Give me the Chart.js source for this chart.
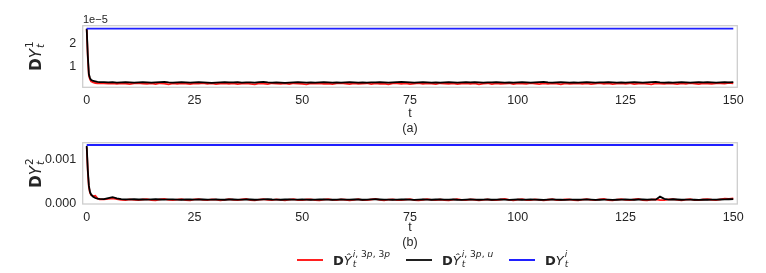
<!DOCTYPE html>
<html>
<head>
<meta charset="utf-8">
<script src="https://cdn.jsdelivr.net/npm/chart.js@4.4.0/dist/chart.umd.min.js"></script>
<style>
  body { margin: 0; background: #fff; width: 766px; height: 273px; position: relative; overflow: hidden;
         font-family: "Liberation Sans", Arial, sans-serif; color: #262626; }
  canvas { position: absolute; left: 0; }
  .math { font-family: "DejaVu Sans", sans-serif; white-space: nowrap; }
  .ylab { position: absolute; transform: translate(-50%, -50%) rotate(-90deg); font-size: 15px; }
  .ss { display: inline-block; vertical-align: -3px; font-size: 0.7em; line-height: 1.05; margin-left: 1px; }
  .ss span { display: block; }
  .off { position: absolute; left: 83px; top: 13px; font-size: 11px; }
  .leg { position: absolute; top: 250px; height: 20px; display: flex; align-items: center; font-size: 13px; }
  .sw { width: 26px; height: 2px; margin-right: 10px; }
</style>
</head>
<body>
<canvas id="pa" width="766" height="140" style="top:0"></canvas>
<canvas id="pb" width="766" height="140" style="top:120px"></canvas>

<div class="off">1e&minus;5</div>
<div class="ylab math" style="left:35px; top:56px"><b>D</b><i>Y</i><span class="ss"><span>1</span><span><i>t</i></span></span></div>
<div class="ylab math" style="left:35px; top:173px"><b>D</b><i>Y</i><span class="ss"><span>2</span><span><i>t</i></span></span></div>

<div class="leg math" style="left:297px"><span class="sw" style="background:#ff2020"></span><b>D</b><i>Ŷ</i><span class="ss"><span><i>i</i>, 3<i>p</i>, 3<i>p</i></span><span><i>t</i></span></span></div>
<div class="leg math" style="left:406px"><span class="sw" style="background:#202020"></span><b>D</b><i>Ŷ</i><span class="ss"><span><i>i</i>, 3<i>p</i>, <i>u</i></span><span><i>t</i></span></span></div>
<div class="leg math" style="left:509px"><span class="sw" style="background:#2020ff"></span><b>D</b><i>Y</i><span class="ss"><span><i>i</i></span><span><i>t</i></span></span></div>

<script>
// time grid: finer steps during the initial drop, then one per unit
const tEarly = [0, 0.25, 0.5, 0.75, 1, 1.5, 2, 2.5, 3];
const tSteps = [];
for (let t = 4; t <= 150; t++) tSteps.push(t);
const times = tEarly.concat(tSteps);

const xTicks = [0, 25, 50, 75, 100, 125, 150];
const yTicksA = [1, 2];          // x 1e-5
const yTicksB = [0, 1];          // x 1e-3 -> 0.000, 0.001

// panel (a), units of 1e-7
const redA = [266, 140, 60, 44, 35, 30, 27, 26, 25,
  26, 24, 25, 23, 26, 24, 22, 25, 27, 24,
  23, 25, 22, 26, 24, 21, 25, 23, 26, 24,
  22, 25, 24, 27, 23, 25, 22, 24, 26, 23,
  25, 22, 24, 26, 23, 21, 25, 24, 22, 26,
  24, 23, 25, 22, 26, 24, 23, 21, 25, 24,
  26, 23, 24, 22, 25, 27, 24, 22, 25, 23,
  24, 26, 22, 25, 23, 24, 21, 25, 26, 23,
  25, 22, 24, 27, 23, 25, 24, 22, 26, 24,
  23, 25, 22, 24, 26, 23, 25, 21, 24, 26,
  22, 25, 23, 24, 26, 22, 25, 24, 23, 27,
  24, 22, 25, 23, 26, 24, 21, 25, 23, 24,
  26, 23, 25, 22, 24, 27, 23, 25, 22, 24,
  25, 23, 26, 22, 24, 25, 23, 21, 25, 24,
  23, 26, 24, 22, 25, 23, 27, 24, 22, 25,
  24, 23, 25, 26, 24, 28, 25];
const blackA = [268, 150, 67, 50, 41, 36, 34, 32, 31,
  31, 30, 31, 29, 30, 31, 30, 29, 30, 31,
  30, 29, 30, 31, 32, 30, 29, 30, 31, 30,
  29, 30, 31, 30, 29, 28, 29, 30, 31, 30,
  30, 31, 29, 30, 30, 29, 31, 32, 30, 29,
  30, 29, 28, 29, 30, 31, 30, 29, 30, 29,
  30, 31, 30, 29, 30, 29, 30, 31, 30, 29,
  30, 29, 30, 30, 31, 30, 29, 30, 31, 32,
  31, 30, 29, 30, 31, 30, 29, 30, 29, 30,
  31, 30, 29, 30, 31, 30, 31, 30, 29, 30,
  30, 31, 30, 29, 30, 29, 30, 31, 30, 29,
  30, 31, 32, 30, 29, 30, 31, 30, 29, 30,
  29, 30, 31, 30, 29, 30, 30, 31, 30, 29,
  30, 29, 30, 31, 30, 29, 30, 31, 32, 30,
  29, 30, 29, 30, 31, 30, 29, 30, 31, 30,
  31, 30, 29, 30, 31, 30, 31];

// panel (b), units of 1e-6
const redB = [1270, 720, 370, 240, 190, 160, 170, 110, 90,
  88, 100, 110, 96, 80, 72, 90, 78, 70, 86,
  95, 74, 68, 90, 100, 78, 70, 84, 92, 72,
  66, 88, 96, 76, 70, 90, 82, 68, 78, 94,
  80, 70, 86, 98, 74, 66, 84, 92, 76, 70,
  88, 78, 68, 82, 96, 74, 70, 86, 90, 72,
  68, 84, 94, 76, 70, 88, 80, 66, 78, 92,
  74, 70, 86, 100, 78, 68, 82, 90, 74, 70,
  84, 96, 72, 66, 80, 92, 78, 70, 86, 74,
  68, 82, 94, 76, 70, 88, 80, 66, 78, 90,
  74, 70, 86, 98, 76, 68, 82, 92, 74, 70,
  88, 78, 66, 80, 96, 74, 70, 86, 90, 72,
  68, 84, 96, 76, 70, 88, 100, 74, 66, 82,
  92, 76, 70, 86, 98, 74, 68, 82, 90, 72,
  70, 88, 96, 76, 68, 84, 92, 74, 70, 86,
  96, 80, 74, 90, 104, 98, 110];
const blackB = [1300, 760, 400, 260, 200, 150, 120, 105, 98,
  95, 118, 138, 112, 96, 90, 88, 92, 86, 90,
  84, 88, 92, 86, 82, 88, 90, 85, 80, 86,
  88, 84, 90, 86, 82, 85, 88, 84, 80, 86,
  90, 84, 82, 88, 86, 80, 84, 88, 92, 86,
  84, 80, 86, 90, 84, 82, 88, 85, 80, 84,
  86, 90, 84, 80, 85, 88, 82, 84, 90, 86,
  80, 84, 88, 92, 86, 82, 85, 80, 84, 88,
  86, 82, 78, 84, 88, 84, 80, 86, 90, 84,
  82, 86, 80, 78, 84, 88, 82, 80, 84, 86,
  80, 84, 88, 82, 78, 84, 86, 80, 82, 86,
  84, 80, 78, 82, 86, 84, 80, 76, 82, 84,
  80, 84, 86, 82, 78, 80, 84, 82, 78, 80,
  84, 88, 82, 80, 86, 90, 84, 88, 82, 150,
  100, 84, 92, 86, 80, 84, 82, 80, 78, 82,
  80, 84, 82, 86, 90, 92, 96];

// constant reference level
const tBlue = [0, 150];
const blueA = [268, 268];
const blueB = [1320, 1320];

function pts(xs, ys, div) {
  return xs.map((t, i) => ({ x: t, y: ys[i] / div }));
}

const framePlugin = {
  id: 'frame',
  afterDatasetsDraw(chart) {
    const a = chart.chartArea, c = chart.ctx;
    c.save();
    c.strokeStyle = '#cccccc';
    c.lineWidth = 1.25;
    c.strokeRect(a.left, a.top, a.right - a.left, a.bottom - a.top);
    c.restore();
  }
};

const tickFont = { family: 'Liberation Sans', size: 12.5 };

function panel(id, series, yMin, yMax, yTicks, fmt, caption, padTop, xHeight, titlePad) {
  return new Chart(document.getElementById(id), {
    type: 'line',
    data: {
      datasets: series.map(s => ({
        data: s.data, borderColor: s.color, borderWidth: 1.8,
        pointRadius: 0, tension: 0, fill: false
      }))
    },
    options: {
      responsive: false,
      animation: false,
      events: [],
      layout: { padding: { left: 0, right: 28.7, top: padTop, bottom: 0 } },
      plugins: { legend: { display: false }, tooltip: { enabled: false } },
      scales: {
        x: {
          type: 'linear', min: -0.93, max: 150.93,
          grid: { display: false, drawTicks: false }, border: { display: false },
          afterBuildTicks: s => { s.ticks = xTicks.map(v => ({ value: v })); },
          afterFit: s => { s.height = xHeight; },
          ticks: { color: '#262626', font: tickFont, padding: 6, maxRotation: 0, autoSkip: false },
          title: {
            display: true, text: ['t', caption], color: '#262626',
            font: { family: 'Liberation Sans', size: 12.5, lineHeight: 1.2 },
            padding: { top: 0, bottom: titlePad }
          }
        },
        y: {
          type: 'linear', min: yMin, max: yMax,
          grid: { display: false, drawTicks: false }, border: { display: false },
          afterBuildTicks: s => { s.ticks = yTicks.map(v => ({ value: v })); },
          afterFit: s => { s.width = 82.7; },
          ticks: { color: '#262626', font: tickFont, padding: 6.5, autoSkip: false, callback: fmt }
        }
      }
    },
    plugins: [framePlugin]
  });
}

panel('pa', [
  { data: pts(tBlue, blueA, 100), color: '#1f1fff' },
  { data: pts(times, blackA, 100), color: '#000000' },
  { data: pts(times, redA, 100), color: '#ff1a1a' }
], 0.08, 2.81, yTicksA, v => String(v), '(a)', 25.7, 52.7, 3.5);

panel('pb', [
  { data: pts(tBlue, blueB, 1000), color: '#1f1fff' },
  { data: pts(times, blackB, 1000), color: '#000000' },
  { data: pts(times, redB, 1000), color: '#ff1a1a' }
], -0.016, 1.372, yTicksB, v => (v / 1000).toFixed(3), '(b)', 22.7, 56, 9.5);
</script>
</body>
</html>
